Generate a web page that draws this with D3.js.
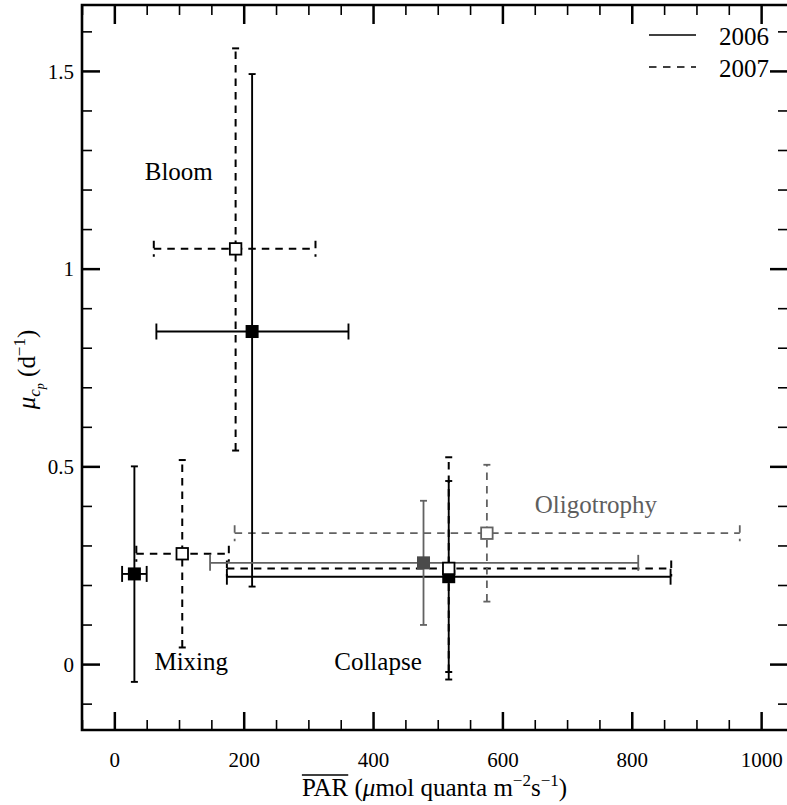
<!DOCTYPE html>
<html>
<head>
<meta charset="utf-8">
<script src="https://cdn.jsdelivr.net/npm/d3@7"></script>
<style>
  html, body { margin: 0; padding: 0; background: #fff; }
  svg { display: block; }
  svg text { font-family: "Liberation Serif", "Tinos", "Times New Roman", "DejaVu Serif", "Noto Serif", serif !important; }
</style>
</head>
<body>
<svg id="chart" width="787" height="805"></svg>
<script>
// ---- Data ----
const phases = ["Mixing", "Bloom", "Collapse", "Oligotrophy"];
const phaseLabelPAR = [62, 47, 340, 650];       // where the phase names sit (x, data units)
const phaseLabelMu = [-0.015, 1.225, -0.015, 0.383]; // baseline (y, data units)

const par2006   = [31, 213, 517, 478];
const par2006Lo = [12, 65, 174, 148];
const par2006Hi = [50, 362, 860, 810];
const mu2006    = [0.228, 0.841, 0.221, 0.256];
const mu2006Lo  = [-0.045, 0.196, -0.039, 0.099];
const mu2006Hi  = [0.500, 1.492, 0.463, 0.413];

const par2007   = [105, 187.5, 517, 576];
const par2007Lo = [34, 61, 174, 186];
const par2007Hi = [177, 311, 861, 967];
const mu2007    = [0.279, 1.050, 0.242, 0.331];
const mu2007Lo  = [0.042, 0.540, -0.020, 0.158];
const mu2007Hi  = [0.516, 1.557, 0.523, 0.504];

const xMajorTicks = [0, 200, 400, 600, 800, 1000];
const xMinorTicks = [-50, 50, 100, 150, 250, 300, 350, 450, 500, 550, 650, 700, 750, 850, 900, 950];
const yMajorTicks = [0, 0.5, 1, 1.5];
const yMajorLabels = ["0", "0.5", "1", "1.5"];
const yMinorTicks = [-0.1, 0.1, 0.2, 0.3, 0.4, 0.6, 0.7, 0.8, 0.9, 1.1, 1.2, 1.3, 1.4, 1.6];
const years = ["2006", "2007"];

// ---- Layout ----
const FONT = '"Liberation Serif", "Tinos", "Times New Roman", "DejaVu Serif", serif';
const svg = d3.select("#chart").style("font-family", FONT);
const L = 82, R = 787, T = 5, B = 730;
const x = d3.scaleLinear().domain([-50, 1040]).range([L, R]);
const y = d3.scaleLinear().domain([-1 / 6, 5 / 3]).range([B, T]);

const BLACK = "#000", GRAY = "#626262", GRAYFILL = "#4a4a4a";
const DASH = "7.5,6";

// ---- Axes (ticks via d3 axes) ----
function styleAxis(g, w) {
  g.attr("font-family", null).style("font-family", FONT);
  g.select(".domain").remove();
  g.selectAll(".tick line").attr("stroke", "#000").attr("stroke-width", w);
}
const fmtX = d3.format("d");
// bottom major
svg.append("g").attr("transform", `translate(0,${B})`)
  .call(d3.axisBottom(x).tickValues(xMajorTicks).tickSizeInner(-18).tickSizeOuter(0).tickPadding(0).tickFormat(fmtX))
  .call(g => { styleAxis(g, 2.5);
    g.selectAll(".tick text").attr("y", 37).attr("dy", null).attr("font-size", 21)
      .style("font-family", FONT).attr("fill", "#000"); });
// bottom minor
svg.append("g").attr("transform", `translate(0,${B})`)
  .call(d3.axisBottom(x).tickValues(xMinorTicks).tickSizeInner(-10).tickSizeOuter(0).tickFormat(""))
  .call(g => styleAxis(g, 1.6));
// top major / minor
svg.append("g").attr("transform", `translate(0,${T})`)
  .call(d3.axisTop(x).tickValues(xMajorTicks).tickSizeInner(-19).tickSizeOuter(0).tickFormat(""))
  .call(g => styleAxis(g, 2.5));
svg.append("g").attr("transform", `translate(0,${T})`)
  .call(d3.axisTop(x).tickValues(xMinorTicks).tickSizeInner(-10).tickSizeOuter(0).tickFormat(""))
  .call(g => styleAxis(g, 1.6));
// left major
svg.append("g").attr("transform", `translate(${L},0)`)
  .call(d3.axisLeft(y).tickValues(yMajorTicks).tickSizeInner(-18).tickSizeOuter(0).tickPadding(0)
    .tickFormat((d, i) => yMajorLabels[i]))
  .call(g => { styleAxis(g, 2.5);
    g.selectAll(".tick text").attr("x", -8).attr("dy", "0.34em").attr("font-size", 21)
      .attr("text-anchor", "end")
      .style("font-family", FONT).attr("fill", "#000"); });
svg.append("g").attr("transform", `translate(${L},0)`)
  .call(d3.axisLeft(y).tickValues(yMinorTicks).tickSizeInner(-10).tickSizeOuter(0).tickFormat(""))
  .call(g => styleAxis(g, 1.6));
// right major / minor
svg.append("g").attr("transform", `translate(${R},0)`)
  .call(d3.axisRight(y).tickValues(yMajorTicks).tickSizeInner(-17).tickSizeOuter(0).tickFormat(""))
  .call(g => styleAxis(g, 2.5));
svg.append("g").attr("transform", `translate(${R},0)`)
  .call(d3.axisRight(y).tickValues(yMinorTicks).tickSizeInner(-9).tickSizeOuter(0).tickFormat(""))
  .call(g => styleAxis(g, 1.6));

// frame
svg.append("path")
  .attr("d", `M${R + 2},${T} H${L} V${B} H${R + 2}`)
  .attr("fill", "none").attr("stroke", "#000").attr("stroke-width", 2.6);

// ---- Error bars ----
const HCAP = 8, VCAP = 3.5;
function errorBars(par, parLo, parHi, mu, muLo, muHi, dashed, colorFn, widthFn) {
  const g = svg.append("g");
  phases.forEach((p, i) => {
    const col = colorFn(i), w = widthFn(i);
    const gi = g.append("g").attr("stroke", col).attr("stroke-width", w).attr("fill", "none")
      .attr("stroke-dasharray", dashed ? DASH : null);
    const yy = y(mu[i]), xx = x(par[i]);
    // horizontal
    gi.append("line").attr("x1", x(parLo[i])).attr("x2", x(parHi[i])).attr("y1", yy).attr("y2", yy);
    gi.append("line").attr("x1", x(parLo[i])).attr("x2", x(parLo[i])).attr("y1", yy - HCAP).attr("y2", yy + HCAP);
    gi.append("line").attr("x1", x(parHi[i])).attr("x2", x(parHi[i])).attr("y1", yy - HCAP).attr("y2", yy + HCAP);
    // vertical
    gi.append("line").attr("x1", xx).attr("x2", xx).attr("y1", y(muLo[i])).attr("y2", y(muHi[i]));
    gi.append("line").attr("x1", xx - VCAP).attr("x2", xx + VCAP).attr("y1", y(muLo[i])).attr("y2", y(muLo[i]))
      .attr("stroke-dasharray", null);
    gi.append("line").attr("x1", xx - VCAP).attr("x2", xx + VCAP).attr("y1", y(muHi[i])).attr("y2", y(muHi[i]))
      .attr("stroke-dasharray", null);
  });
}
const isGray = i => phases[i] === "Oligotrophy";
errorBars(par2007, par2007Lo, par2007Hi, mu2007, mu2007Lo, mu2007Hi, true,
  i => isGray(i) ? GRAY : BLACK, i => isGray(i) ? 1.8 : 2);
errorBars(par2006, par2006Lo, par2006Hi, mu2006, mu2006Lo, mu2006Hi, false,
  i => isGray(i) ? GRAY : BLACK, i => isGray(i) ? 1.8 : 1.9);

// ---- Markers ----
const S = 13;
svg.append("g").selectAll("rect").data(phases).join("rect")
  .attr("x", (d, i) => x(par2006[i]) - S / 2).attr("y", (d, i) => y(mu2006[i]) - S / 2)
  .attr("width", S).attr("height", S)
  .attr("fill", (d, i) => isGray(i) ? GRAYFILL : BLACK);
const S2 = 11.5;
svg.append("g").selectAll("rect").data(phases).join("rect")
  .attr("x", (d, i) => x(par2007[i]) - S2 / 2).attr("y", (d, i) => y(mu2007[i]) - S2 / 2)
  .attr("width", S2).attr("height", S2)
  .attr("fill", "#fff").attr("stroke", (d, i) => isGray(i) ? GRAY : BLACK).attr("stroke-width", 1.8);

// ---- Phase labels ----
svg.append("g").selectAll("text").data(phases).join("text")
  .attr("x", (d, i) => x(phaseLabelPAR[i])).attr("y", (d, i) => y(phaseLabelMu[i]))
  .attr("font-size", 25)
  .style("font-family", FONT)
  .style("fill", (d, i) => isGray(i) ? "#5e5e5e" : "#000")
  .text(d => d);

// ---- Legend ----
const leg = svg.append("g");
years.forEach((yr, i) => {
  const ly = 35 + i * 32;
  leg.append("line").attr("x1", 649).attr("x2", 696).attr("y1", ly).attr("y2", ly)
    .attr("stroke", "#000").attr("stroke-width", 1.6)
    .attr("stroke-dasharray", i === 1 ? "7.5,6.5" : null);
  leg.append("text").attr("x", 719).attr("y", ly + 10).attr("font-size", 25)
    .style("font-family", FONT).text(yr);
});

// ---- Axis titles ----
const xt = svg.append("text").attr("x", (L + R) / 2).attr("y", 796).attr("text-anchor", "middle")
  .attr("font-size", 25).style("font-family", FONT);
xt.append("tspan").attr("class", "par").text("PAR");
xt.append("tspan").text(" (");
xt.append("tspan").attr("font-style", "italic").text("μ");
xt.append("tspan").text("mol quanta m");
xt.append("tspan").attr("font-size", 17).attr("dy", -10).text("−2");
xt.append("tspan").attr("dy", 10).text("s");
xt.append("tspan").attr("font-size", 17).attr("dy", -10).text("−1");
xt.append("tspan").attr("dy", 10).text(")");
// overline on PAR
const parNode = xt.select(".par").node();
const n0 = parNode.getStartPositionOfChar(0).x;
const n1 = parNode.getEndPositionOfChar(2).x;
svg.append("line").attr("x1", n0).attr("x2", n1).attr("y1", 775).attr("y2", 775)
  .attr("stroke", "#000").attr("stroke-width", 1.4);

const yt = svg.append("text").attr("transform", `translate(35,${(T + B) / 2 + 2}) rotate(-90)`)
  .attr("text-anchor", "middle").attr("font-size", 25).style("font-family", FONT);
yt.append("tspan").attr("font-style", "italic").text("μ");
yt.append("tspan").attr("font-style", "italic").attr("font-size", 17).attr("dy", 5).text("c");
yt.append("tspan").attr("font-style", "italic").attr("font-size", 12).attr("dy", 4).text("p");
yt.append("tspan").attr("dy", -9).text(" (d");
yt.append("tspan").attr("font-size", 17).attr("dy", -10).text("−1");
yt.append("tspan").attr("dy", 10).text(")");
</script>
</body>
</html>
